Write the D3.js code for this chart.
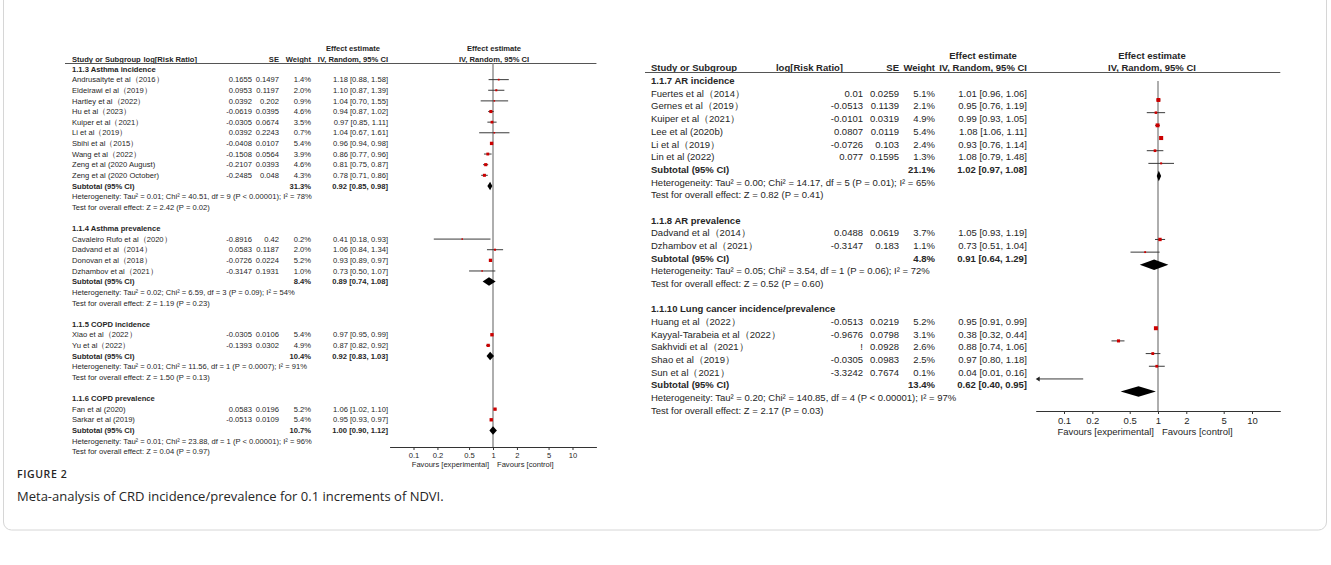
<!DOCTYPE html>
<html>
<head>
<meta charset="utf-8">
<style>
  body { margin: 0; background: #fff; }
  svg { display: block; }
  text { font-family: "Liberation Sans", Arial, sans-serif; fill: #262626; }
</style>
</head>
<body>
<svg></svg>
<script src="https://d3js.org/d3.v7.min.js"></script>
<script>
// ---- left panel data ----
const leftGroups = ["1.1.3 Asthma incidence", "1.1.4 Asthma prevalence", "1.1.5 COPD incidence", "1.1.6 COPD prevalence"];
const leftStudy = ["Andrusaityte et al（2016）", "Eldeirawi el al（2019）", "Hartley et al（2022）", "Hu et al（2023）",
  "Kuiper et al（2021）", "Li et al（2019）", "Sbihi et al（2015）", "Wang et al（2022）", "Zeng et al (2020 August)",
  "Zeng et al (2020 October)", "Cavaleiro Rufo et al（2020）", "Dadvand et al（2014）", "Donovan et al（2018）",
  "Dzhambov et al（2021）", "Xiao et al（2022）", "Yu et al（2022）", "Fan et al (2020)", "Sarkar et al (2019)"];
const leftGroupOf = [0, 0, 0, 0, 0, 0, 0, 0, 0, 0, 1, 1, 1, 1, 2, 2, 3, 3];
const leftLog = [0.1655, 0.0953, 0.0392, -0.0619, -0.0305, 0.0392, -0.0408, -0.1508, -0.2107, -0.2485, -0.8916, 0.0583, -0.0726, -0.3147, -0.0305, -0.1393, 0.0583, -0.0513];
const leftSE = [0.1497, 0.1197, 0.202, 0.0395, 0.0674, 0.2243, 0.0107, 0.0564, 0.0393, 0.048, 0.42, 0.1187, 0.0224, 0.1931, 0.0106, 0.0302, 0.0196, 0.0109];
const leftWeight = [1.4, 2.0, 0.9, 4.6, 3.5, 0.7, 5.4, 3.9, 4.6, 4.3, 0.2, 2.0, 5.2, 1.0, 5.4, 4.9, 5.2, 5.4];
const leftRR = [1.18, 1.10, 1.04, 0.94, 0.97, 1.04, 0.96, 0.86, 0.81, 0.78, 0.41, 1.06, 0.93, 0.73, 0.97, 0.87, 1.06, 0.95];
const leftLow = [0.88, 0.87, 0.70, 0.87, 0.85, 0.67, 0.94, 0.77, 0.75, 0.71, 0.18, 0.84, 0.89, 0.50, 0.95, 0.82, 1.02, 0.93];
const leftHigh = [1.58, 1.39, 1.55, 1.02, 1.11, 1.61, 0.98, 0.96, 0.87, 0.86, 0.93, 1.34, 0.97, 1.07, 0.99, 0.92, 1.10, 0.97];
const leftSubWeight = [31.3, 8.4, 10.4, 10.7];
const leftSubRR = [0.92, 0.89, 0.92, 1.00];
const leftSubLow = [0.85, 0.74, 0.83, 0.90];
const leftSubHigh = [0.98, 1.08, 1.03, 1.12];
const leftHet = [
  "Heterogeneity: Tau² = 0.01; Chi² = 40.51, df = 9 (P < 0.00001); I² = 78%",
  "Heterogeneity: Tau² = 0.02; Chi² = 6.59, df = 3 (P = 0.09); I² = 54%",
  "Heterogeneity: Tau² = 0.01; Chi² = 11.56, df = 1 (P = 0.0007); I² = 91%",
  "Heterogeneity: Tau² = 0.01; Chi² = 23.88, df = 1 (P < 0.00001); I² = 96%"];
const leftTest = [
  "Test for overall effect: Z = 2.42 (P = 0.02)",
  "Test for overall effect: Z = 1.19 (P = 0.23)",
  "Test for overall effect: Z = 1.50 (P = 0.13)",
  "Test for overall effect: Z = 0.04 (P = 0.97)"];

// ---- right panel data ----
const rightGroups = ["1.1.7 AR incidence", "1.1.8 AR prevalence", "1.1.10 Lung cancer incidence/prevalence"];
const rightStudy = ["Fuertes et al（2014）", "Gernes et al（2019）", "Kuiper et al（2021）", "Lee et al (2020b)",
  "Li et al（2019）", "Lin et al (2022)", "Dadvand et al（2014）", "Dzhambov et al（2021）", "Huang et al（2022）",
  "Kayyal-Tarabeia et al（2022）", "Sakhvidi et al（2021）", "Shao et al（2019）", "Sun et al（2021）"];
const rightGroupOf = [0, 0, 0, 0, 0, 0, 1, 1, 2, 2, 2, 2, 2];
const rightLog = [0.01, -0.0513, -0.0101, 0.0807, -0.0726, 0.077, 0.0488, -0.3147, -0.0513, -0.9676, "!", -0.0305, -3.3242];
const rightSE = [0.0259, 0.1139, 0.0319, 0.0119, 0.103, 0.1595, 0.0619, 0.183, 0.0219, 0.0798, 0.0928, 0.0983, 0.7674];
const rightWeight = [5.1, 2.1, 4.9, 5.4, 2.4, 1.3, 3.7, 1.1, 5.2, 3.1, 2.6, 2.5, 0.1];
const rightRR = [1.01, 0.95, 0.99, 1.08, 0.93, 1.08, 1.05, 0.73, 0.95, 0.38, 0.88, 0.97, 0.04];
const rightLow = [0.96, 0.76, 0.93, 1.06, 0.76, 0.79, 0.93, 0.51, 0.91, 0.32, 0.74, 0.80, 0.01];
const rightHigh = [1.06, 1.19, 1.05, 1.11, 1.14, 1.48, 1.19, 1.04, 0.99, 0.44, 1.06, 1.18, 0.16];
const rightSubWeight = [21.1, 4.8, 13.4];
const rightSubRR = [1.02, 0.91, 0.62];
const rightSubLow = [0.97, 0.64, 0.40];
const rightSubHigh = [1.08, 1.29, 0.95];
const rightHet = [
  "Heterogeneity: Tau² = 0.00; Chi² = 14.17, df = 5 (P = 0.01); I² = 65%",
  "Heterogeneity: Tau² = 0.05; Chi² = 3.54, df = 1 (P = 0.06); I² = 72%",
  "Heterogeneity: Tau² = 0.20; Chi² = 140.85, df = 4 (P < 0.00001); I² = 97%"];
const rightTest = [
  "Test for overall effect: Z = 0.82 (P = 0.41)",
  "Test for overall effect: Z = 0.52 (P = 0.60)",
  "Test for overall effect: Z = 2.17 (P = 0.03)"];

// axis ticks
const tickValues = [0.1, 0.2, 0.5, 1, 2, 5, 10];
const tickLabels = ["0.1", "0.2", "0.5", "1", "2", "5", "10"];

const width = 1331, height = 565;
const svg = d3.select("svg").attr("width", width).attr("height", height);

// figure frame
svg.append("rect")
  .attr("x", 3.5).attr("y", -20)
  .attr("width", 1323).attr("height", 550)
  .attr("rx", 8)
  .attr("fill", "none")
  .attr("stroke", "#d6d6d6");

const f2 = d3.format(".2f"), f1 = d3.format(".1f");

function drawPanel(p, d) {
  // build the table rows
  const rows = [];
  d.groups.forEach(function(g, gi) {
    if (gi > 0) rows.push({ kind: "blank" });
    rows.push({ kind: "head", label: g });
    d.study.forEach(function(s, i) {
      if (d.groupOf[i] !== gi) return;
      rows.push({ kind: "study", label: s, log: d.log[i], se: d.se[i], w: d.weight[i], rr: d.rr[i], lo: d.low[i], hi: d.high[i] });
    });
    rows.push({ kind: "sub", label: "Subtotal (95% CI)", w: d.subWeight[gi], rr: d.subRR[gi], lo: d.subLow[gi], hi: d.subHigh[gi] });
    rows.push({ kind: "note", label: d.het[gi] });
    rows.push({ kind: "note", label: d.test[gi] });
  });
  rows.forEach(function(r, i) { r.i = i; });

  const g = svg.append("g").style("font-size", p.font + "px");
  const y = d3.scaleLinear().domain([0, 1]).range([p.row0, p.row0 + p.rowH]);
  const base = p.font * 0.35;
  const x = d3.scaleLog().domain([0.05, 20]).range([p.nullX - 1.301 * p.dec, p.nullX + 1.301 * p.dec]);
  const xr = x.range();

  // column headers
  const bold = function(sel) { return sel.style("font-weight", "bold"); };
  bold(g.append("text").attr("x", p.x0).attr("y", p.headY2).text("Study or Subgroup"));
  bold(g.append("text").attr("x", p.logHead).attr("y", p.headY2).attr("text-anchor", "end").text("log[Risk Ratio]"));
  bold(g.append("text").attr("x", p.seX).attr("y", p.headY2).attr("text-anchor", "end").text("SE"));
  bold(g.append("text").attr("x", p.wX).attr("y", p.headY2).attr("text-anchor", "end").text("Weight"));
  const iv = bold(g.append("text").attr("x", p.effX).attr("y", p.headY2).attr("text-anchor", "end").text("IV, Random, 95% CI"));
  const ivLen = iv.node().getComputedTextLength();
  bold(g.append("text").attr("x", p.effX - ivLen / 2).attr("y", p.headY1).attr("text-anchor", "middle").text("Effect estimate"));
  bold(g.append("text").attr("x", p.plotHead).attr("y", p.headY1).attr("text-anchor", "middle").text("Effect estimate"));
  bold(g.append("text").attr("x", p.plotHead).attr("y", p.headY2).attr("text-anchor", "middle").text("IV, Random, 95% CI"));

  g.append("line")
    .attr("x1", p.lineX0).attr("x2", xr[1])
    .attr("y1", p.lineY).attr("y2", p.lineY)
    .attr("stroke", "#555").attr("stroke-width", 1);

  // table text
  const row = g.selectAll("g.row").data(rows.filter(function(r) { return r.kind !== "blank"; }))
    .enter().append("g")
    .attr("transform", function(r) { return "translate(0," + (y(r.i) + base) + ")"; });

  row.append("text")
    .attr("x", p.x0)
    .style("font-weight", function(r) { return (r.kind === "head" || r.kind === "sub") ? "bold" : null; })
    .text(function(r) { return r.label; });

  const st = row.filter(function(r) { return r.kind === "study"; });
  st.append("text").attr("x", p.logX).attr("text-anchor", "end").text(function(r) { return String(r.log); });
  st.append("text").attr("x", p.seX).attr("text-anchor", "end").text(function(r) { return String(r.se); });

  const val = row.filter(function(r) { return r.kind === "study" || r.kind === "sub"; });
  val.append("text").attr("x", p.wX).attr("text-anchor", "end")
    .style("font-weight", function(r) { return r.kind === "sub" ? "bold" : null; })
    .text(function(r) { return f1(r.w) + "%"; });
  val.append("text").attr("x", p.effX).attr("text-anchor", "end")
    .style("font-weight", function(r) { return r.kind === "sub" ? "bold" : null; })
    .text(function(r) { return f2(r.rr) + " [" + f2(r.lo) + ", " + f2(r.hi) + "]"; });

  // null line
  const yp = function(i) { return y(i) + p.plotShift; };
  g.append("line")
    .attr("x1", x(1)).attr("x2", x(1))
    .attr("y1", p.nullTop).attr("y2", p.axisY)
    .attr("stroke", "#9a9a9a").attr("stroke-width", 1.6);

  // study CIs and boxes
  const studies = rows.filter(function(r) { return r.kind === "study"; });
  const dmin = x.domain()[0];
  g.selectAll("line.ci").data(studies).enter().append("line")
    .attr("x1", function(r) { return x(Math.max(r.lo, dmin)) + (r.lo < dmin ? 3 : 0); })
    .attr("x2", function(r) { return x(r.hi); })
    .attr("y1", function(r) { return yp(r.i); })
    .attr("y2", function(r) { return yp(r.i); })
    .attr("stroke", "#3a3a3a").attr("stroke-width", 1);

  // arrow where the interval runs past the axis
  g.selectAll("path.arrow").data(studies.filter(function(r) { return r.lo < dmin; })).enter().append("path")
    .attr("d", function(r) {
      const x0 = x(dmin), yy = yp(r.i);
      return "M" + x0 + "," + yy + "L" + (x0 + 4) + "," + (yy - 2.5) + "L" + (x0 + 4) + "," + (yy + 2.5) + "Z";
    })
    .attr("fill", "#222");

  const side = function(r) { return Math.max(1.5, p.box * Math.sqrt(r.w)); };
  g.selectAll("rect.box").data(studies.filter(function(r) { return r.rr >= dmin; })).enter().append("rect")
    .attr("width", side)
    .attr("height", side)
    .attr("x", function(r) { return x(r.rr) - side(r) / 2; })
    .attr("y", function(r) { return yp(r.i) - side(r) / 2; })
    .attr("fill", "#cc0000");

  // subtotal diamonds
  const subs = rows.filter(function(r) { return r.kind === "sub"; });
  g.selectAll("path.dia").data(subs).enter().append("path")
    .attr("d", function(r) {
      const yy = yp(r.i), h = p.dia / 2;
      return "M" + x(r.lo) + "," + yy + "L" + x(r.rr) + "," + (yy - h) + "L" + x(r.hi) + "," + yy + "L" + x(r.rr) + "," + (yy + h) + "Z";
    })
    .attr("fill", "#000");

  // axis
  const ax = g.append("g")
    .attr("transform", "translate(0," + p.axisY + ")")
    .call(d3.axisBottom(x).tickValues(tickValues)
      .tickFormat(function(v, i) { return tickLabels[i]; })
      .tickSize(3).tickSizeOuter(0));
  ax.select(".domain").attr("stroke", "#333");
  ax.selectAll(".tick line").attr("stroke", "#333");
  ax.selectAll(".tick text")
    .style("font-family", "'Liberation Sans', Arial, sans-serif")
    .style("font-size", p.font + "px")
    .attr("fill", "#262626");

  g.append("text").attr("x", x(1) - 4).attr("y", p.axisY + p.rowH * 1.9)
    .attr("text-anchor", "end").text("Favours [experimental]");
  g.append("text").attr("x", x(1) + 4).attr("y", p.axisY + p.rowH * 1.9)
    .text("Favours [control]");
}

drawPanel({
  x0: 72, lineX0: 65, logHead: 197, logX: 252, seX: 279, wX: 311, effX: 388,
  nullX: 493, plotHead: 494, dec: 79.5, font: 7.6, rowH: 10.63, row0: 69, plotShift: 0,
  headY1: 50.5, headY2: 61.5, lineY: 63.5, nullTop: 63.5, axisY: 447, box: 1.45, dia: 8.5
}, {
  groups: leftGroups, study: leftStudy, groupOf: leftGroupOf, log: leftLog, se: leftSE,
  weight: leftWeight, rr: leftRR, low: leftLow, high: leftHigh,
  subWeight: leftSubWeight, subRR: leftSubRR, subLow: leftSubLow, subHigh: leftSubHigh,
  het: leftHet, test: leftTest
});

drawPanel({
  x0: 651, lineX0: 645, logHead: 843, logX: 863, seX: 899, wX: 935, effX: 1027,
  nullX: 1158, plotHead: 1152, dec: 94, font: 9.5, rowH: 12.68, row0: 80.8, plotShift: 6.5,
  headY1: 59, headY2: 70.5, lineY: 72.5, nullTop: 81, axisY: 411, box: 1.75, dia: 10.5
}, {
  groups: rightGroups, study: rightStudy, groupOf: rightGroupOf, log: rightLog, se: rightSE,
  weight: rightWeight, rr: rightRR, low: rightLow, high: rightHigh,
  subWeight: rightSubWeight, subRR: rightSubRR, subLow: rightSubLow, subHigh: rightSubHigh,
  het: rightHet, test: rightTest
});

// caption
svg.append("text")
  .attr("x", 17).attr("y", 478)
  .style("font-family", "'Open Sans', sans-serif")
  .style("font-size", "10.5px").style("font-weight", 600)
  .style("letter-spacing", "0.6px")
  .attr("fill", "#555")
  .text("FIGURE 2");
svg.append("text")
  .attr("x", 17).attr("y", 501)
  .style("font-family", "'Open Sans', sans-serif")
  .style("font-size", "13px")
  .attr("fill", "#4a4a4a")
  .text("Meta-analysis of CRD incidence/prevalence for 0.1 increments of NDVI.");
</script>
</body>
</html>
